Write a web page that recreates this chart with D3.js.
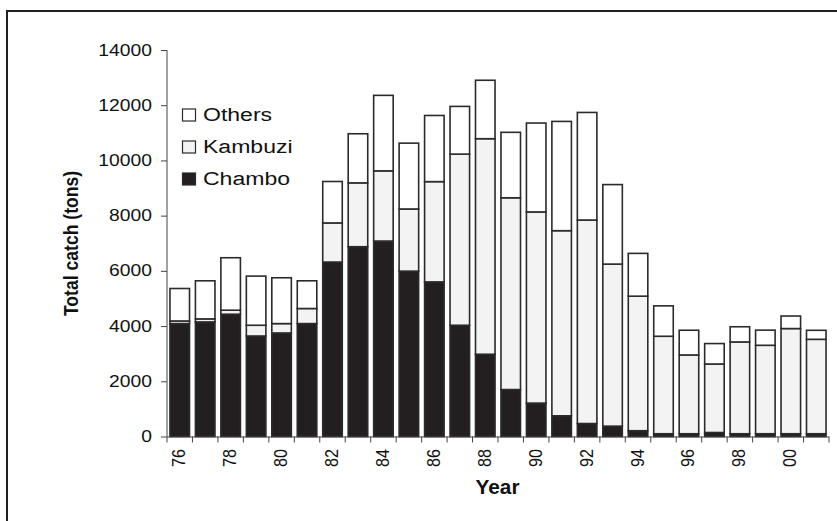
<!DOCTYPE html>
<html><head><meta charset="utf-8">
<script src="https://cdn.jsdelivr.net/npm/d3@7"></script>
<style>body{margin:0;background:#fff}svg{display:block}text{font-family:"Liberation Sans",Arial,sans-serif;fill:#111}</style>
</head><body><svg id="c" width="837" height="521"></svg>
<script>
const years = ["76","77","78","79","80","81","82","83","84","85","86","87","88","89","90","91","92","93","94","95","96","97","98","99","00","01"];
const chambo  = [4090,4150,4430,3640,3750,4090,6320,6875,7080,5990,5600,4030,2980,1700,1210,750,470,375,210,100,100,145,100,100,100,100];
const kambuzi = [95,110,145,390,340,546,1416,2312,2542,2251,3632,6199,7807,6947,6924,6705,7371,5870,4873,3531,2853,2481,3325,3204,3810,3420];
const others  = [1176,1380,1900,1780,1660,1004,1501,1779,2735,2385,2396,1728,2117,2371,3220,3958,3897,2880,1550,1101,896,740,550,549,454,327];
const seriesNames = ["Chambo","Kambuzi","Others"];
const seriesColors = ["#231f20","#f2f3f2","#ffffff"];
const yTicks = [0,2000,4000,6000,8000,10000,12000,14000];
const xLabelYears = ["76","78","80","82","84","86","88","90","92","94","96","98","00"];

const svg = d3.select("#c");
// frame
svg.append("rect").attr("x",7).attr("y",11).attr("width",900).attr("height",600)
  .attr("fill","none").attr("stroke","#231f20").attr("stroke-width",2);

const x = d3.scaleBand().domain(years).range([167,829]).paddingInner(0.17).paddingOuter(0.085);
const y = d3.scaleLinear().domain([0,14000]).range([436.5,50]);

const rows = years.map((yr,i)=>({year:yr,Chambo:chambo[i],Kambuzi:kambuzi[i],Others:others[i]}));
const stacked = d3.stack().keys(seriesNames)(rows);

const g = svg.append("g");
stacked.forEach((s,si)=>{
  g.selectAll(null).data(s).enter().append("rect")
    .attr("x",d=>x(d.data.year)+0.8)
    .attr("width",x.bandwidth()-1.6)
    .attr("y",d=>y(d[1]))
    .attr("height",d=>Math.max(0,y(d[0])-y(d[1])))
    .attr("fill",seriesColors[si])
    .attr("stroke","#2b2b2b").attr("stroke-width",1.6);
});

// y axis
const yAxis = svg.append("g").attr("transform","translate(167,0)")
  .call(d3.axisLeft(y).tickValues(yTicks).tickSize(6).tickFormat(""));
yAxis.selectAll("line,path").attr("stroke","#444").attr("stroke-width",1);
yAxis.select(".domain").attr("d","M0,"+y(14000)+"V"+y(0));
yTicks.forEach(t=>{
  svg.append("text").attr("transform",`translate(152,${y(t)+5.5}) scale(1.17,1)`)
    .attr("text-anchor","end").style("font-size","16.5px").text(t);
});

// x axis
const step = x.step();
const bounds = years.map(yr=>x(yr)-(step-x.bandwidth())/2).concat([x(years[years.length-1])+x.bandwidth()+(step-x.bandwidth())/2]);
const xAxisG = svg.append("g");
xAxisG.append("line").attr("x1",167).attr("x2",829).attr("y1",y(0)+0.5).attr("y2",y(0)+0.5).attr("stroke","#444");
xAxisG.selectAll(null).data(bounds).enter().append("line")
  .attr("x1",d=>d).attr("x2",d=>d).attr("y1",y(0)).attr("y2",y(0)+6).attr("stroke","#444");
xLabelYears.forEach(yr=>{
  const cx = x(yr)+x.bandwidth()/2+5.5;
  svg.append("text").attr("transform",`translate(${cx},449) scale(1.17,1) rotate(-90)`)
    .attr("text-anchor","end").style("font-size","16.2px").text(yr);
});

// axis titles
svg.append("text").attr("transform","translate(497.5,494) scale(1.07,1)")
  .attr("text-anchor","middle").style("font-size","19.5px").style("font-weight","bold").text("Year");
svg.append("text").attr("transform","translate(78,243.5) scale(1.19,1) rotate(-90)")
  .attr("text-anchor","middle").style("font-size","17.6px").style("font-weight","bold").text("Total catch (tons)");

// legend
const legendOrder = [2,1,0];
legendOrder.forEach((si,k)=>{
  const ly = 109 + k*32;
  svg.append("rect").attr("x",182.5).attr("y",ly).attr("width",13).attr("height",12)
    .attr("fill",seriesColors[si]).attr("stroke","#2b2b2b").attr("stroke-width",1.2);
  svg.append("text").attr("transform",`translate(203,${ly+12}) scale(1.28,1)`)
    .style("font-size","18px").text(seriesNames[si]);
});
</script></body></html>
